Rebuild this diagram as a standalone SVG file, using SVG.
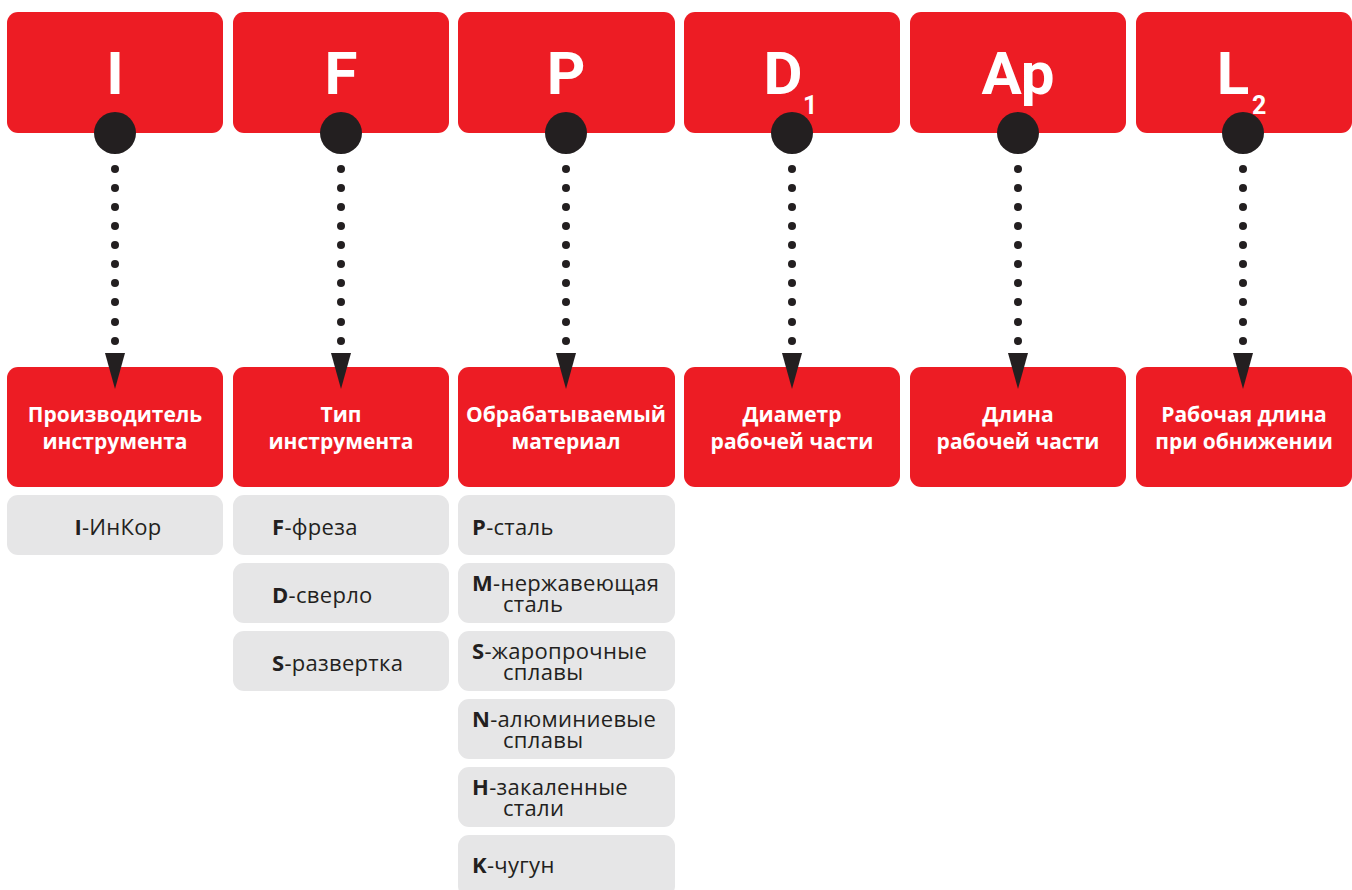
<svg xmlns="http://www.w3.org/2000/svg" width="1352" height="890" viewBox="0 0 1352 890">
<style>
.red{fill:#ed1c24}
.gray{fill:#e6e6e7}
.head{font-family:Roboto,"Liberation Sans",sans-serif;font-weight:700;font-size:60px;fill:#fff;text-anchor:middle}
.sub{font-family:Roboto,"Liberation Sans",sans-serif;font-weight:700;font-size:25px;fill:#fff}
.lab{font-family:"Open Sans","Liberation Sans",sans-serif;font-weight:700;font-size:21px;fill:#fff;text-anchor:middle}
.it{font-family:"Open Sans","Liberation Sans",sans-serif;font-size:22px;letter-spacing:0.3px;fill:#231f20}
.it tspan.b{font-weight:700}
.dot{fill:#231f20}
</style>
<defs>
<g id="conn">
<circle cx="0" cy="133" r="21" class="dot"/>
<circle cx="0" cy="169" r="4" class="dot"/>
<circle cx="0" cy="188" r="4" class="dot"/>
<circle cx="0" cy="207" r="4" class="dot"/>
<circle cx="0" cy="226" r="4" class="dot"/>
<circle cx="0" cy="245" r="4" class="dot"/>
<circle cx="0" cy="264" r="4" class="dot"/>
<circle cx="0" cy="283" r="4" class="dot"/>
<circle cx="0" cy="302" r="4" class="dot"/>
<circle cx="0" cy="322" r="4" class="dot"/>
<circle cx="0" cy="341" r="4" class="dot"/>
<path d="M-10,353 L10,353 L0,389 Z" class="dot"/>
</g>
</defs>

<g id="top-I"><rect x="7" y="12" width="216" height="121" rx="11" class="red"/><text x="115" y="94" class="head">I</text></g>
<g id="top-F"><rect x="233" y="12" width="216" height="121" rx="11" class="red"/><text x="341" y="94" class="head">F</text></g>
<g id="top-P"><rect x="458" y="12" width="217" height="121" rx="11" class="red"/><text x="566" y="94" class="head">P</text></g>
<g id="top-D1"><rect x="684" y="12" width="216" height="121" rx="11" class="red"/><text x="783" y="94" class="head">D</text><text x="803" y="114" class="sub">1</text></g>
<g id="top-Ap"><rect x="910" y="12" width="216" height="121" rx="11" class="red"/><text x="1018" y="94" class="head">Ap</text></g>
<g id="top-L2"><rect x="1136" y="12" width="216" height="121" rx="11" class="red"/><text x="1233" y="94" class="head">L</text><text x="1252" y="114" class="sub">2</text></g>

<g id="bot-I"><rect x="7" y="367" width="216" height="120" rx="11" class="red"/><text x="115" y="422" class="lab">Производитель</text><text x="115" y="449" class="lab">инструмента</text></g>
<g id="bot-F"><rect x="233" y="367" width="216" height="120" rx="11" class="red"/><text x="341" y="422" class="lab">Тип</text><text x="341" y="449" class="lab">инструмента</text></g>
<g id="bot-P"><rect x="458" y="367" width="217" height="120" rx="11" class="red"/><text x="566" y="422" class="lab">Обрабатываемый</text><text x="566" y="449" class="lab">материал</text></g>
<g id="bot-D1"><rect x="684" y="367" width="216" height="120" rx="11" class="red"/><text x="792" y="422" class="lab">Диаметр</text><text x="792" y="449" class="lab">рабочей части</text></g>
<g id="bot-Ap"><rect x="910" y="367" width="216" height="120" rx="11" class="red"/><text x="1018" y="422" class="lab">Длина</text><text x="1018" y="449" class="lab">рабочей части</text></g>
<g id="bot-L2"><rect x="1136" y="367" width="216" height="120" rx="11" class="red"/><text x="1244" y="422" class="lab">Рабочая длина</text><text x="1244" y="449" class="lab">при обнижении</text></g>

<g id="connectors">
<use href="#conn" x="115"/>
<use href="#conn" x="341"/>
<use href="#conn" x="566"/>
<use href="#conn" x="792"/>
<use href="#conn" x="1018"/>
<use href="#conn" x="1243"/>
</g>

<g id="item-I"><rect x="7" y="495" width="216" height="60" rx="11" class="gray"/><text x="118" y="535" class="it" text-anchor="middle"><tspan class="b">I</tspan>-ИнКор</text></g>

<g id="item-F"><rect x="233" y="495" width="216" height="60" rx="11" class="gray"/><text x="272" y="535" class="it"><tspan class="b">F</tspan>-фреза</text></g>
<g id="item-D"><rect x="233" y="563" width="216" height="60" rx="11" class="gray"/><text x="272" y="603" class="it"><tspan class="b">D</tspan>-сверло</text></g>
<g id="item-S"><rect x="233" y="631" width="216" height="60" rx="11" class="gray"/><text x="272" y="671" class="it"><tspan class="b">S</tspan>-развертка</text></g>

<g id="item-P"><rect x="458" y="495" width="217" height="60" rx="11" class="gray"/><text x="472" y="535" class="it"><tspan class="b">P</tspan>-сталь</text></g>
<g id="item-M"><rect x="458" y="563" width="217" height="60" rx="11" class="gray"/><text x="472" y="591" class="it"><tspan class="b">M</tspan>-нержавеющая</text><text x="503" y="612" class="it">сталь</text></g>
<g id="item-Sm"><rect x="458" y="631" width="217" height="60" rx="11" class="gray"/><text x="472" y="659" class="it"><tspan class="b">S</tspan>-жаропрочные</text><text x="503" y="680" class="it">сплавы</text></g>
<g id="item-N"><rect x="458" y="699" width="217" height="60" rx="11" class="gray"/><text x="472" y="727" class="it"><tspan class="b">N</tspan>-алюминиевые</text><text x="503" y="748" class="it">сплавы</text></g>
<g id="item-H"><rect x="458" y="767" width="217" height="60" rx="11" class="gray"/><text x="472" y="795" class="it"><tspan class="b">H</tspan>-закаленные</text><text x="503" y="816" class="it">стали</text></g>
<g id="item-K"><rect x="458" y="835" width="217" height="62" rx="11" class="gray"/><text x="472" y="873" class="it"><tspan class="b">K</tspan>-чугун</text></g>
</svg>
